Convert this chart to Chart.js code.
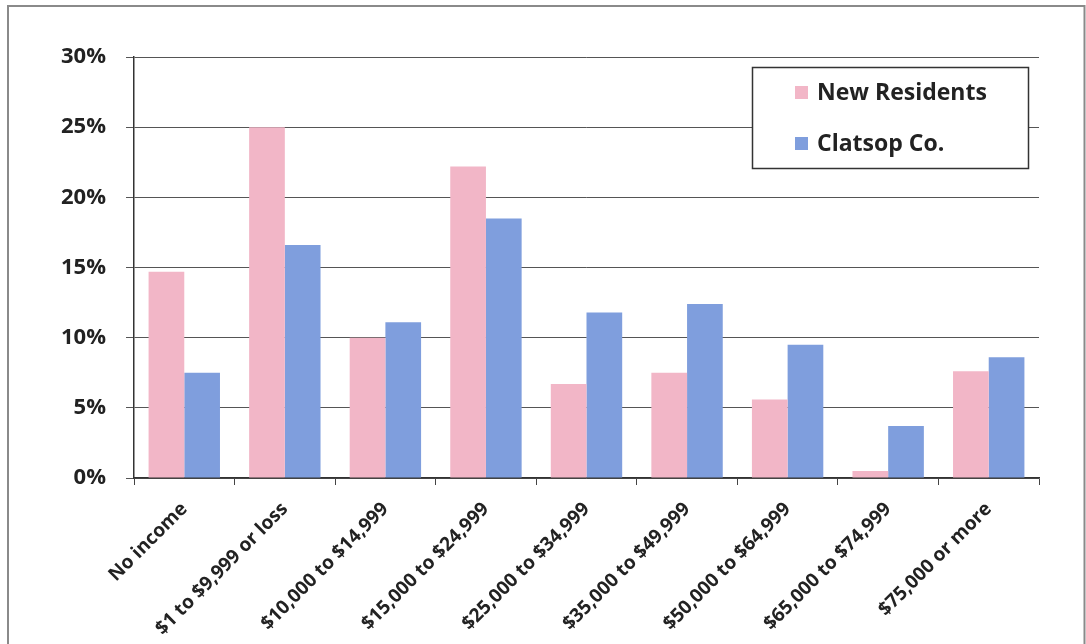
<!DOCTYPE html>
<html>
<head>
<meta charset="utf-8">
<script src="https://cdn.jsdelivr.net/npm/chart.js@4"></script>
<style>
  html, body { margin: 0; padding: 0; background: #fff; }
  #wrap { position: relative; width: 1086px; height: 644px; }
  canvas { display: block; }
</style>
</head>
<body>
<div id="wrap"><canvas id="c" width="1086" height="644"></canvas></div>
<script>
// Household income brackets
const categories = [
  'No income', '$1 to $9,999 or loss', '$10,000 to $14,999', '$15,000 to $24,999',
  '$25,000 to $34,999', '$35,000 to $49,999', '$50,000 to $64,999',
  '$65,000 to $74,999', '$75,000 or more'
];
// Share of households in each bracket (%)
const newResidents = [14.7, 25.0, 10.0, 22.2, 6.7, 7.5, 5.6, 0.5, 7.6];
const clatsopCo    = [7.5, 16.6, 11.1, 18.5, 11.8, 12.4, 9.5, 3.7, 8.6];
const seriesNames  = ['New Residents', 'Clatsop Co.'];
const yTicks       = [0, 5, 10, 15, 20, 25, 30];

const PINK = '#F2B6C7';
const BLUE = '#7F9EDD';
const FONT = '"Open Sans", "Noto Sans", sans-serif';

// Outer frame around the whole figure
const framePlugin = {
  id: 'frame',
  beforeDraw(chart) {
    const ctx = chart.ctx;
    ctx.save();
    ctx.strokeStyle = '#8a8a8a';
    ctx.lineWidth = 2;
    ctx.beginPath();
    ctx.moveTo(8, 700);
    ctx.lineTo(8, 6);
    ctx.lineTo(1084.5, 6);
    ctx.lineTo(1084.5, 700);
    ctx.stroke();
    ctx.restore();
  }
};

// Boxed legend sitting inside the plot, top right
const boxLegend = {
  id: 'boxLegend',
  afterDraw(chart) {
    const ctx = chart.ctx;
    const area = chart.chartArea;
    const x = area.right - 287, y = area.top + 10, w = 276, h = 101;
    ctx.save();
    ctx.fillStyle = '#fff';
    ctx.fillRect(x, y, w, h);
    ctx.strokeStyle = '#333';
    ctx.lineWidth = 1.5;
    ctx.strokeRect(x + 0.5, y + 0.5, w, h);
    ctx.font = 'bold 23px ' + FONT;
    ctx.textBaseline = 'middle';
    chart.data.datasets.forEach((ds, i) => {
      const cy = y + 26 + i * 51;
      ctx.fillStyle = ds.backgroundColor;
      ctx.fillRect(x + 43, cy - 7, 13, 13);
      ctx.fillStyle = '#222';
      ctx.fillText(ds.label, x + 65, cy);
    });
    ctx.restore();
  }
};

new Chart(document.getElementById('c'), {
  type: 'bar',
  data: {
    labels: categories,
    datasets: [
      { label: seriesNames[0], data: newResidents, backgroundColor: PINK },
      { label: seriesNames[1], data: clatsopCo, backgroundColor: BLUE }
    ]
  },
  options: {
    responsive: false,
    animation: false,
    devicePixelRatio: 1,
    layout: { padding: { top: 57, right: 47, left: 0, bottom: 0 } },
    datasets: { bar: { categoryPercentage: 0.71, barPercentage: 1.0 } },
    plugins: {
      legend: { display: false },
      tooltip: { enabled: false }
    },
    scales: {
      x: {
        offset: true,
        grid: {
          offset: true,
          drawOnChartArea: false,
          drawTicks: true,
          tickLength: 7,
          color: '#444',
          lineWidth: 1
        },
        border: { display: true, color: '#333', width: 1.5 },
        ticks: {
          minRotation: 45,
          maxRotation: 45,
          autoSkip: false,
          padding: 13,
          color: '#222',
          font: { family: FONT, size: 19, weight: 'bold' }
        },
        afterFit(s) { s.height = 644 - 478; }
      },
      y: {
        min: 0,
        max: 30,
        afterBuildTicks(s) { s.ticks = yTicks.map(v => ({ value: v })); },
        grid: {
          color: '#555',
          lineWidth: 1,
          drawTicks: true,
          tickLength: 8
        },
        border: { display: true, color: '#333', width: 1.5 },
        ticks: {
          padding: 20,
          color: '#222',
          font: { family: FONT, size: 22, weight: 'bold' },
          callback: v => v + '%'
        },
        afterFit(s) { s.width = 134; }
      }
    }
  },
  plugins: [framePlugin, boxLegend]
});
</script>
</body>
</html>
